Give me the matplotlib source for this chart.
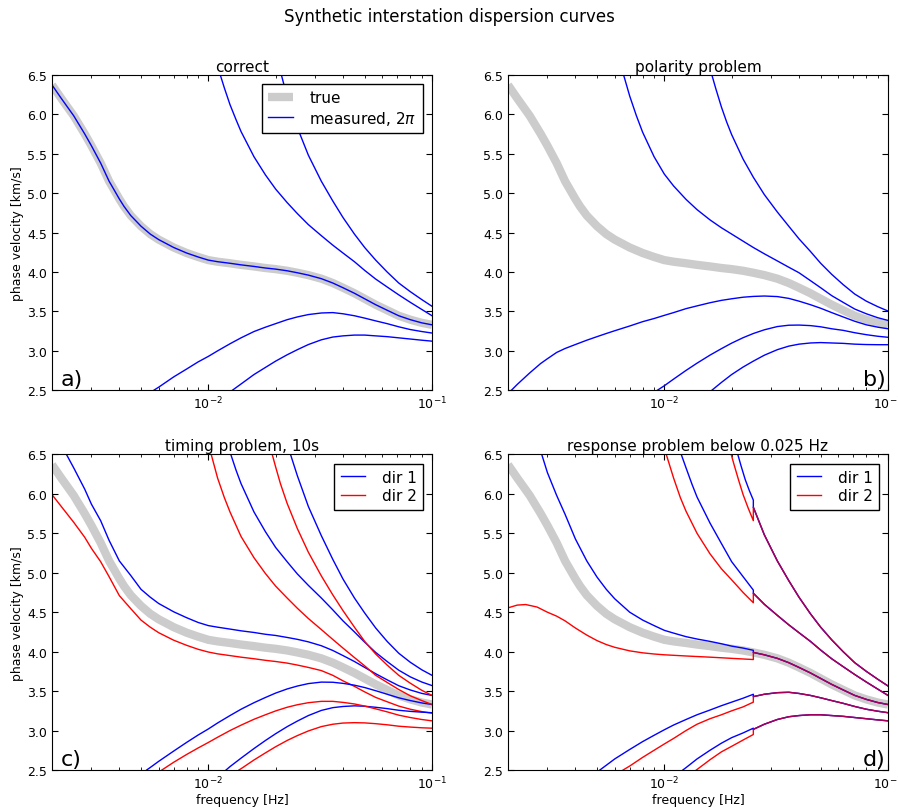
import matplotlib
matplotlib.use("Agg")
import matplotlib.pyplot as plt
from matplotlib.ticker import FormatStrFormatter

# all curves as (frequency [Hz], phase velocity [km/s]) pairs

# true dispersion curve (grey band), identical to the "correct" measurement
true_curve = [(0.002, 6.37), (0.0022, 6.20), (0.0025, 5.98), (0.0028, 5.75), (0.003, 5.60),
              (0.0033, 5.38), (0.0036, 5.15), (0.0038, 5.035), (0.004, 4.925), (0.0042, 4.83),
              (0.0045, 4.715), (0.005, 4.58), (0.0055, 4.48), (0.006, 4.41), (0.007, 4.31),
              (0.008, 4.24), (0.009, 4.19), (0.01, 4.15), (0.011, 4.13), (0.0125, 4.11),
              (0.014, 4.09), (0.016, 4.07), (0.018, 4.05), (0.02, 4.036), (0.0225, 4.015),
              (0.025, 3.99), (0.028, 3.96), (0.032, 3.915), (0.036, 3.86), (0.04, 3.80),
              (0.045, 3.73), (0.05, 3.66), (0.056, 3.585), (0.063, 3.515), (0.071, 3.445),
              (0.08, 3.395), (0.09, 3.355), (0.1, 3.33)]

# a) correct, neighbouring 2pi branches
a_up1 = [(0.0113, 6.5), (0.0118, 6.33), (0.0125, 6.12), (0.0133, 5.93), (0.014, 5.78), (0.016, 5.46),
         (0.018, 5.23), (0.02, 5.05), (0.0225, 4.88), (0.025, 4.74), (0.028, 4.60), (0.032, 4.46),
         (0.036, 4.34), (0.04, 4.24), (0.045, 4.13), (0.05, 4.02), (0.056, 3.91), (0.063, 3.81),
         (0.071, 3.71), (0.08, 3.615), (0.09, 3.525), (0.1, 3.445)]
a_up2 = [(0.0212, 6.5), (0.0225, 6.22), (0.025, 5.83), (0.028, 5.48), (0.032, 5.15), (0.036, 4.90),
         (0.04, 4.69), (0.045, 4.48), (0.05, 4.31), (0.056, 4.15), (0.063, 4.00), (0.071, 3.86),
         (0.08, 3.75), (0.09, 3.65), (0.1, 3.565)]
a_lo1 = [(0.0057, 2.5), (0.006, 2.54), (0.007, 2.67), (0.008, 2.77), (0.009, 2.86), (0.01, 2.93),
         (0.011, 3.00), (0.0125, 3.09), (0.014, 3.165), (0.016, 3.245), (0.018, 3.30), (0.02, 3.345),
         (0.0225, 3.395), (0.025, 3.43), (0.028, 3.46), (0.032, 3.48), (0.036, 3.485), (0.04, 3.47),
         (0.045, 3.445), (0.05, 3.415), (0.056, 3.38), (0.063, 3.345), (0.071, 3.305), (0.08, 3.27),
         (0.09, 3.245), (0.1, 3.226)]
a_lo2 = [(0.0128, 2.5), (0.014, 2.58), (0.016, 2.70), (0.018, 2.79), (0.02, 2.87), (0.0225, 2.95),
         (0.025, 3.015), (0.028, 3.08), (0.032, 3.14), (0.036, 3.175), (0.04, 3.19), (0.045, 3.20),
         (0.05, 3.20), (0.056, 3.19), (0.063, 3.18), (0.071, 3.165), (0.08, 3.15), (0.09, 3.135),
         (0.1, 3.123)]

# b) polarity problem (half-cycle branches)
b_up1 = [(0.00657, 6.5), (0.007, 6.23), (0.0075, 5.98), (0.008, 5.77), (0.009, 5.46), (0.01, 5.24),
         (0.011, 5.09), (0.0125, 4.92), (0.014, 4.79), (0.016, 4.66), (0.018, 4.56), (0.02, 4.48),
         (0.0225, 4.39), (0.025, 4.31), (0.028, 4.23), (0.032, 4.14), (0.036, 4.06), (0.04, 3.99),
         (0.045, 3.89), (0.05, 3.80), (0.056, 3.70), (0.063, 3.615), (0.071, 3.53), (0.08, 3.47),
         (0.09, 3.42), (0.1, 3.386)]
b_up2 = [(0.0163, 6.5), (0.017, 6.32), (0.018, 6.09), (0.019, 5.90), (0.02, 5.74), (0.0225, 5.43),
         (0.025, 5.20), (0.028, 4.98), (0.032, 4.76), (0.036, 4.58), (0.04, 4.42), (0.045, 4.26),
         (0.05, 4.11), (0.056, 3.97), (0.063, 3.84), (0.071, 3.72), (0.08, 3.63), (0.09, 3.56),
         (0.1, 3.505)]
b_lo1 = [(0.00207, 2.5), (0.0022, 2.575), (0.0025, 2.72), (0.0028, 2.84), (0.003, 2.90), (0.0033, 2.98),
         (0.0036, 3.03), (0.004, 3.08), (0.0045, 3.135), (0.005, 3.18), (0.0055, 3.22), (0.006, 3.255),
         (0.007, 3.315), (0.008, 3.37), (0.009, 3.41), (0.01, 3.45), (0.011, 3.485), (0.0125, 3.535),
         (0.014, 3.57), (0.016, 3.61), (0.018, 3.64), (0.02, 3.66), (0.0225, 3.68), (0.025, 3.69),
         (0.028, 3.695), (0.032, 3.688), (0.036, 3.665), (0.04, 3.63), (0.045, 3.585), (0.05, 3.54),
         (0.056, 3.485), (0.063, 3.43), (0.071, 3.375), (0.08, 3.33), (0.09, 3.30), (0.1, 3.28)]
b_lo2 = [(0.0093, 2.5), (0.01, 2.558), (0.011, 2.642), (0.0125, 2.752), (0.014, 2.844), (0.016, 2.946),
         (0.018, 3.028), (0.02, 3.098), (0.0225, 3.167), (0.025, 3.22), (0.028, 3.267), (0.032, 3.308),
         (0.036, 3.325), (0.04, 3.327), (0.045, 3.32), (0.05, 3.305), (0.056, 3.28), (0.063, 3.26),
         (0.071, 3.23), (0.08, 3.205), (0.09, 3.185), (0.1, 3.172)]
b_lo3 = [(0.0163, 2.5), (0.018, 2.60), (0.02, 2.70), (0.0225, 2.795), (0.025, 2.87), (0.028, 2.945),
         (0.032, 3.015), (0.036, 3.06), (0.04, 3.085), (0.045, 3.10), (0.05, 3.105), (0.056, 3.10),
         (0.063, 3.095), (0.071, 3.085), (0.08, 3.08), (0.09, 3.078), (0.1, 3.078)]

# c) timing problem, dir 1 (blue) and dir 2 (red)
c_b0 = [(0.00232, 6.5), (0.0025, 6.33), (0.0028, 6.06), (0.003, 5.87), (0.0033, 5.66), (0.0036, 5.41),
        (0.004, 5.15), (0.0045, 4.965), (0.005, 4.79), (0.0055, 4.69), (0.006, 4.61), (0.007, 4.505),
        (0.008, 4.43), (0.009, 4.37), (0.01, 4.33), (0.011, 4.31), (0.0125, 4.286), (0.014, 4.264),
        (0.016, 4.243), (0.018, 4.22), (0.02, 4.205), (0.0225, 4.18), (0.025, 4.156), (0.028, 4.124),
        (0.032, 4.075), (0.036, 4.015), (0.04, 3.95), (0.045, 3.875), (0.05, 3.80), (0.056, 3.72),
        (0.063, 3.643), (0.071, 3.568), (0.08, 3.514), (0.09, 3.471), (0.1, 3.445)]
c_r0 = [(0.002, 5.99), (0.0022, 5.84), (0.0025, 5.64), (0.0028, 5.45), (0.003, 5.31), (0.0033, 5.14),
        (0.0036, 4.95), (0.004, 4.71), (0.0045, 4.545), (0.005, 4.40), (0.0055, 4.31), (0.006, 4.24),
        (0.007, 4.145), (0.008, 4.08), (0.009, 4.03), (0.01, 3.995), (0.011, 3.972), (0.0125, 3.95),
        (0.014, 3.93), (0.016, 3.91), (0.018, 3.89), (0.02, 3.875), (0.0225, 3.855), (0.025, 3.83),
        (0.028, 3.80), (0.032, 3.76), (0.036, 3.70), (0.04, 3.63), (0.045, 3.56), (0.05, 3.49),
        (0.056, 3.42), (0.063, 3.365), (0.071, 3.31), (0.08, 3.27), (0.09, 3.24), (0.1, 3.22)]
c_b1 = [(0.0126, 6.5), (0.0133, 6.30), (0.014, 6.13), (0.016, 5.77), (0.018, 5.52), (0.02, 5.32),
        (0.0225, 5.14), (0.025, 4.985), (0.028, 4.84), (0.032, 4.68), (0.036, 4.53), (0.04, 4.39),
        (0.045, 4.25), (0.05, 4.12), (0.056, 3.99), (0.063, 3.875), (0.071, 3.765), (0.08, 3.68),
        (0.09, 3.615), (0.1, 3.57)]
c_b2 = [(0.0233, 6.5), (0.025, 6.23), (0.028, 5.84), (0.032, 5.47), (0.036, 5.17), (0.04, 4.92),
        (0.045, 4.68), (0.05, 4.49), (0.056, 4.30), (0.063, 4.13), (0.071, 3.98), (0.08, 3.865),
        (0.09, 3.77), (0.1, 3.70)]
c_r1 = [(0.0103, 6.5), (0.011, 6.20), (0.0118, 5.95), (0.0125, 5.77), (0.014, 5.46), (0.016, 5.19),
        (0.018, 4.99), (0.02, 4.83), (0.0225, 4.68), (0.025, 4.55), (0.028, 4.42), (0.032, 4.28),
        (0.036, 4.155), (0.04, 4.045), (0.045, 3.925), (0.05, 3.82), (0.056, 3.70), (0.063, 3.61),
        (0.071, 3.52), (0.08, 3.44), (0.09, 3.38), (0.1, 3.33)]
c_r2 = [(0.0193, 6.5), (0.02, 6.34), (0.021, 6.13), (0.0225, 5.88), (0.025, 5.56), (0.028, 5.26),
        (0.032, 4.96), (0.036, 4.72), (0.04, 4.52), (0.045, 4.31), (0.05, 4.13), (0.056, 3.97),
        (0.063, 3.83), (0.071, 3.70), (0.08, 3.60), (0.09, 3.51), (0.1, 3.445)]
c_bl1 = [(0.0053, 2.5), (0.0055, 2.532), (0.006, 2.61), (0.007, 2.74), (0.008, 2.85), (0.009, 2.943),
         (0.01, 3.02), (0.011, 3.096), (0.0125, 3.19), (0.014, 3.27), (0.016, 3.353), (0.018, 3.419),
         (0.02, 3.475), (0.0225, 3.527), (0.025, 3.564), (0.028, 3.595), (0.032, 3.614), (0.036, 3.612),
         (0.04, 3.598), (0.045, 3.575), (0.05, 3.545), (0.056, 3.505), (0.063, 3.46), (0.071, 3.415),
         (0.08, 3.38), (0.09, 3.35), (0.1, 3.33)]
c_rl1 = [(0.0062, 2.5), (0.007, 2.598), (0.008, 2.697), (0.009, 2.779), (0.01, 2.849), (0.011, 2.915),
         (0.0125, 3.0), (0.014, 3.068), (0.016, 3.143), (0.018, 3.20), (0.02, 3.249), (0.0225, 3.295),
         (0.025, 3.327), (0.028, 3.353), (0.032, 3.37), (0.036, 3.37), (0.04, 3.357), (0.045, 3.337),
         (0.05, 3.31), (0.056, 3.275), (0.063, 3.237), (0.071, 3.195), (0.08, 3.165), (0.09, 3.14),
         (0.1, 3.123)]
c_bl2 = [(0.012, 2.5), (0.0125, 2.543), (0.014, 2.65), (0.016, 2.772), (0.018, 2.874), (0.02, 2.96),
         (0.0225, 3.049), (0.025, 3.12), (0.028, 3.19), (0.032, 3.255), (0.036, 3.29), (0.04, 3.305),
         (0.045, 3.313), (0.05, 3.308), (0.056, 3.295), (0.063, 3.278), (0.071, 3.257), (0.08, 3.243),
         (0.09, 3.233), (0.1, 3.226)]
c_rl2 = [(0.0137, 2.5), (0.014, 2.516), (0.016, 2.627), (0.018, 2.717), (0.02, 2.795), (0.0225, 2.874),
         (0.025, 2.936), (0.028, 2.995), (0.032, 3.05), (0.036, 3.08), (0.04, 3.095), (0.045, 3.10),
         (0.05, 3.097), (0.056, 3.087), (0.063, 3.073), (0.071, 3.055), (0.08, 3.044), (0.09, 3.035),
         (0.1, 3.03)]

# d) response problem: branches below 0.025 Hz differ, above they follow panel a)
f_cut = 0.025
d_b0 = [(0.00283, 6.5), (0.003, 6.27), (0.0033, 5.98), (0.0036, 5.74), (0.004, 5.43), (0.0045, 5.15),
        (0.005, 4.945), (0.0055, 4.79), (0.006, 4.67), (0.007, 4.50), (0.008, 4.40), (0.009, 4.33),
        (0.01, 4.27), (0.011, 4.235), (0.0125, 4.19), (0.014, 4.16), (0.016, 4.13), (0.018, 4.10),
        (0.02, 4.07), (0.0225, 4.045), (0.025, 4.017)]
d_r0 = [(0.002, 4.555), (0.0022, 4.59), (0.0024, 4.597), (0.0027, 4.565), (0.003, 4.50), (0.0033, 4.45),
        (0.0036, 4.39), (0.004, 4.30), (0.0045, 4.21), (0.005, 4.14), (0.0055, 4.09), (0.006, 4.055),
        (0.007, 4.01), (0.008, 3.985), (0.009, 3.97), (0.01, 3.96), (0.0125, 3.945), (0.016, 3.93),
        (0.02, 3.915), (0.025, 3.90)]
d_b1 = [(0.0119, 6.5), (0.0125, 6.33), (0.0133, 6.12), (0.014, 5.96), (0.016, 5.63), (0.018, 5.37),
        (0.02, 5.14), (0.0225, 4.95), (0.025, 4.78)]
d_r1 = [(0.0102, 6.5), (0.011, 6.2), (0.0118, 5.95), (0.0125, 5.78), (0.014, 5.50), (0.016, 5.24),
        (0.018, 5.05), (0.02, 4.91), (0.0225, 4.75), (0.025, 4.62)]
d_b2 = [(0.0213, 6.5), (0.022, 6.36), (0.023, 6.18), (0.024, 6.04), (0.025, 5.92)]
d_r2 = [(0.0199, 6.5), (0.0205, 6.37), (0.0215, 6.17), (0.0225, 5.99), (0.0237, 5.82), (0.025, 5.66)]
d_bl1 = [(0.00515, 2.5), (0.0055, 2.56), (0.006, 2.64), (0.007, 2.76), (0.008, 2.86), (0.009, 2.94),
         (0.01, 3.01), (0.011, 3.07), (0.0125, 3.14), (0.014, 3.20), (0.016, 3.26), (0.018, 3.315),
         (0.02, 3.36), (0.0225, 3.41), (0.025, 3.46)]
d_rl1 = [(0.00654, 2.5), (0.007, 2.55), (0.008, 2.66), (0.009, 2.75), (0.01, 2.83), (0.011, 2.90),
         (0.0125, 3.0), (0.014, 3.08), (0.016, 3.15), (0.018, 3.20), (0.02, 3.25), (0.0225, 3.30),
         (0.025, 3.36)]
d_bl2 = [(0.0121, 2.5), (0.0125, 2.53), (0.014, 2.64), (0.016, 2.75), (0.018, 2.84), (0.02, 2.91),
         (0.0225, 2.97), (0.025, 3.03)]
d_rl2 = [(0.0139, 2.5), (0.015, 2.57), (0.016, 2.63), (0.018, 2.73), (0.02, 2.80), (0.0225, 2.88),
         (0.025, 2.95)]

titles = ["correct", "polarity problem", "timing problem, 10s", "response problem below 0.025 Hz"]
panel_labels = ["a)", "b)", "c)", "d)"]
yticks = [2.5, 3.0, 3.5, 4.0, 4.5, 5.0, 5.5, 6.0, 6.5]

grey = "#cccccc"
leg_kw = dict(loc="upper right", fontsize=11, fancybox=False, framealpha=1, edgecolor="black",
              handlelength=1.6, handletextpad=1.1, borderpad=0.4, labelspacing=0.25, borderaxespad=0.6)


def xy(pairs):
    return [p[0] for p in pairs], [p[1] for p in pairs]


def join_branch(low, high):
    # response-affected part up to the cut, then the correct branch from the cut on
    return xy(list(low) + [p for p in high if p[0] >= f_cut])


fig, axes = plt.subplots(2, 2, figsize=(8.98, 8.12), dpi=100)
fig.subplots_adjust(left=52 / 898, right=888 / 898, bottom=1 - 771 / 812, top=1 - 75.7 / 812,
                    wspace=0.2, hspace=0.203)
fig.suptitle("Synthetic interstation dispersion curves", fontsize=12, y=0.99)

for ax in axes.flat:
    ax.plot(*xy(true_curve), color=grey, lw=6, solid_capstyle="butt", label="true")

# a)
ax = axes[0, 0]
ax.plot(*xy(true_curve), "b-", lw=1, label="measured, $2\\pi$")
for branch in [a_up1, a_up2, a_lo1, a_lo2]:
    ax.plot(*xy(branch), "b-", lw=1)
ax.legend(**leg_kw)

# b)
ax = axes[0, 1]
for branch in [b_up1, b_up2, b_lo1, b_lo2, b_lo3]:
    ax.plot(*xy(branch), "b-", lw=1)

# c)
ax = axes[1, 0]
h1, = ax.plot(*xy(c_b0), "b-", lw=1)
h2, = ax.plot(*xy(c_r0), "r-", lw=1)
for branch in [c_b1, c_b2, c_bl1, c_bl2]:
    ax.plot(*xy(branch), "b-", lw=1)
for branch in [c_r1, c_r2, c_rl1, c_rl2]:
    ax.plot(*xy(branch), "r-", lw=1)
ax.legend([h1, h2], ["dir 1", "dir 2"], **leg_kw)

# d)
ax = axes[1, 1]
groups = [(d_b0, d_r0, true_curve), (d_b1, d_r1, a_up1), (d_b2, d_r2, a_up2),
          (d_bl1, d_rl1, a_lo1), (d_bl2, d_rl2, a_lo2)]
handles = []
for low_b, low_r, high in groups:
    hb, = ax.plot(*join_branch(low_b, high), "b-", lw=1)
    hr, = ax.plot(*join_branch(low_r, high), "r-", lw=1)
    # both directions coincide above the cut: let the blue shine through a bit
    ax.plot(*xy([p for p in high if p[0] >= f_cut]), "b-", lw=1, alpha=0.35)
    handles = handles or [hb, hr]
ax.legend(handles, ["dir 1", "dir 2"], **leg_kw)

for i, ax in enumerate(axes.flat):
    ax.set_xscale("log")
    ax.set_xlim(0.002, 0.1)
    ax.set_ylim(2.5, 6.5)
    ax.set_yticks(yticks)
    ax.yaxis.set_major_formatter(FormatStrFormatter("%.1f"))
    ax.tick_params(which="both", direction="in", top=True, right=True, labelsize=9)
    ax.tick_params(which="major", length=4.5)
    ax.tick_params(which="minor", length=2.5)
    ax.set_title(titles[i], fontsize=11, pad=3)
    if i % 2 == 0:
        ax.set_ylabel("phase velocity [km/s]", fontsize=9, labelpad=2)
        ax.text(0.022, 0.004, panel_labels[i], transform=ax.transAxes, fontsize=16,
                ha="left", va="bottom")
    else:
        ax.text(0.993, 0.004, panel_labels[i], transform=ax.transAxes, fontsize=16,
                ha="right", va="bottom")
    if i >= 2:
        ax.set_xlabel("frequency [Hz]", fontsize=9, labelpad=1)

plt.savefig("out.png", dpi=100)
